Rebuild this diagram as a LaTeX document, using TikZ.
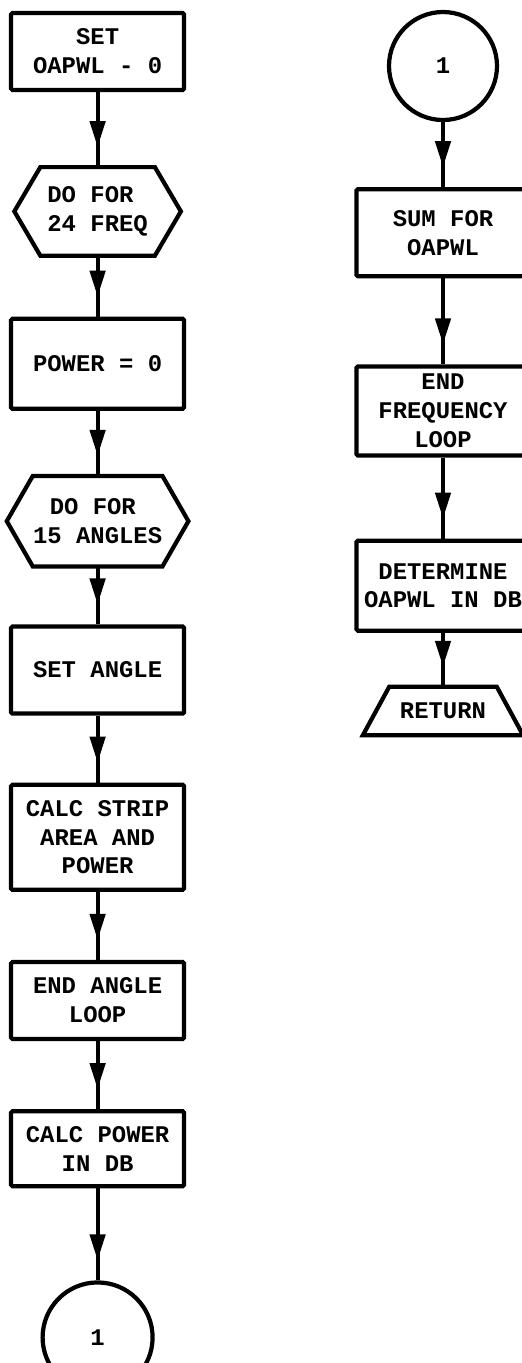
\documentclass[tikz,border=0pt]{standalone}
\usepackage{fontspec}
\newfontfamily\typewr{Liberation Mono}
\usetikzlibrary{positioning,arrows.meta,decorations.markings}

\begin{document}
\begin{tikzpicture}[
    every node/.style={font=\typewr\bfseries\fontsize{17}{20.5}\selectfont},
    proc/.style={draw,line width=3pt,rounded corners=1pt,minimum width=4.325cm,
                 align=center,inner sep=0pt},
    loopbox/.style={minimum width=2.85cm,minimum height=2.2cm,align=left,inner sep=0pt},
    term/.style={minimum width=2.675cm,minimum height=1.2cm,inner sep=0pt},
    conn/.style={draw,circle,line width=3pt,minimum size=2.75cm,inner sep=0pt},
    outline/.style={line width=3pt,line join=miter},
    flow/.style={line width=2.8pt,postaction={decorate},
                 decoration={markings,mark=at position -5mm with
                 {\arrow{Triangle[length=6.5mm,width=3.8mm]}}}}
  ]
  \useasboundingbox (0,0) rectangle (13.05,-34.075);

  % left column
  \node[proc,minimum height=1.925cm] (setoapwl) at (2.44,-1.2875) {SET\\OAPWL - 0};
  \node[loopbox,below=1.875cm of setoapwl] (dofreq) {DO FOR\\24 FREQ};
  \node[proc,minimum height=2.25cm,below=1.525cm of dofreq] (power) {POWER = 0};
  \node[loopbox,minimum height=2.25cm,below=1.625cm of power] (doangle)
       {\hspace*{.7em}DO FOR\\15 ANGLES};
  \node[proc,minimum height=2.175cm,below=1.45cm of doangle] (setangle) {SET ANGLE};
  \node[proc,minimum height=2.625cm,below=1.675cm of setangle] (calcstrip)
       {CALC STRIP\\AREA AND\\POWER};
  \node[proc,minimum height=1.925cm,below=1.7cm of calcstrip] (endangle) {END ANGLE\\LOOP};
  \node[proc,minimum height=1.875cm,below=1.7cm of endangle] (calcpower) {CALC POWER\\IN DB};
  \node[conn,below=2.3cm of calcpower] (connbot) {1};

  \draw[outline] (dofreq.north west) -- (dofreq.north east) -- ([xshift=6.5mm]dofreq.east)
       -- (dofreq.south east) -- (dofreq.south west) -- ([xshift=-6.5mm]dofreq.west) -- cycle;
  \draw[outline] (doangle.north west) -- (doangle.north east) -- ([xshift=6.5mm]doangle.east)
       -- (doangle.south east) -- (doangle.south west) -- ([xshift=-6.5mm]doangle.west) -- cycle;

  % right column
  \node[conn,minimum size=2.7cm] (conntop) at (11.075,-1.65) {1};
  \node[proc,minimum height=2.175cm,below=1.625cm of conntop] (sumfor) {SUM FOR\\OAPWL};
  \node[proc,minimum height=2.225cm,below=2.15cm of sumfor] (endfreq) {END\\FREQUENCY\\LOOP};
  \node[proc,minimum height=2.25cm,below=2.025cm of endfreq] (determine)
       {DETERMINE\\OAPWL IN DB};
  \node[term,below=1.35cm of determine] (return) {RETURN};
  \draw[outline] (return.north west) -- (return.north east)
       -- ([xshift=6.6mm]return.south east) -- ([xshift=-6.6mm]return.south west) -- cycle;

  \foreach \a/\b in {setoapwl/dofreq,dofreq/power,power/doangle,doangle/setangle,
                     setangle/calcstrip,calcstrip/endangle,endangle/calcpower,
                     calcpower/connbot,conntop/sumfor,sumfor/endfreq,
                     endfreq/determine,determine/return}
    \draw[flow] (\a.south) -- (\b.north);
\end{tikzpicture}
\end{document}
